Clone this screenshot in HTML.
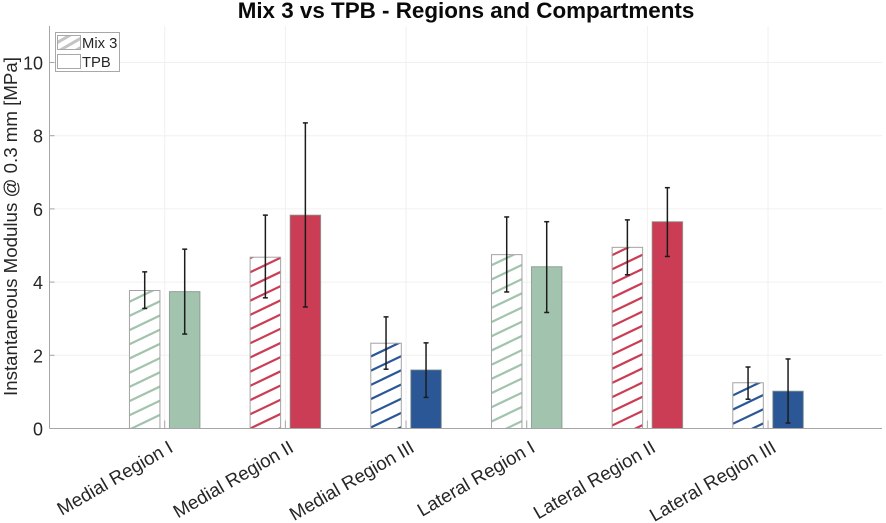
<!DOCTYPE html>
<html>
<head>
<meta charset="utf-8">
<style>
html,body{margin:0;padding:0;background:#fff;width:886px;height:523px;overflow:hidden}
svg{display:block}
text{font-family:"Liberation Sans",sans-serif;fill:#262626}
</style>
</head>
<body>
<svg id="chart" width="886" height="523" viewBox="0 0 886 523" xmlns="http://www.w3.org/2000/svg">
  <text x="466" y="18" text-anchor="middle" font-size="22.4" font-weight="bold" style="fill:#0a0a0a">Mix 3 vs TPB - Regions and Compartments</text>
  <text transform="translate(17,226.5) rotate(-90)" text-anchor="middle" font-size="18.7">Instantaneous Modulus @ 0.3 mm [MPa]</text>
  <g id="grid"></g>
  <g id="bars"></g>
  <g id="errors"></g>
  <g id="axes"></g>
  <g>
    <rect x="55.5" y="32.5" width="64" height="39" fill="#fff" stroke="#a8a8a8" stroke-width="1"/>
    <defs>
      <pattern id="legend-hatch" patternUnits="userSpaceOnUse" width="8" height="8" patternTransform="rotate(-30)">
        <rect width="8" height="8" fill="#fff"/>
        <rect width="8" height="3" fill="#c4c4c4"/>
      </pattern>
    </defs>
    <rect x="57.5" y="35.5" width="23" height="14" fill="url(#legend-hatch)" stroke="#a8a8a8"/>
    <text x="82" y="48" font-size="14.8">Mix 3</text>
    <rect x="57.5" y="54.5" width="23" height="14" fill="#fff" stroke="#a8a8a8"/>
    <text x="82" y="67" font-size="14.8">TPB</text>
  </g>
</svg>
<script>
const categories = ["Medial Region I", "Medial Region II", "Medial Region III", "Lateral Region I", "Lateral Region II", "Lateral Region III"];
const mix3Values = [3.77, 4.68, 2.33, 4.75, 4.95, 1.25];
const mix3Upper = [4.28, 5.83, 3.05, 5.78, 5.70, 1.68];
const mix3Lower = [3.28, 3.57, 1.62, 3.73, 4.20, 0.80];
const tpbValues = [3.74, 5.83, 1.60, 4.42, 5.65, 1.02];
const tpbUpper = [4.90, 8.35, 2.34, 5.65, 6.58, 1.90];
const tpbLower = [2.58, 3.32, 0.85, 3.17, 4.70, 0.15];
const categoryColors = ["#a2c3ad", "#cb3d54", "#2b5797", "#a2c3ad", "#cb3d54", "#2b5797"];
const yTickLabels = [0, 2, 4, 6, 8, 10];

const NS = "http://www.w3.org/2000/svg";
const AXIS_LEFT = 49.5, AXIS_RIGHT = 882, AXIS_BOTTOM = 428.5, AXIS_TOP = 26;
const xAt = i => 164.7 + 120.67 * i;
const yAt = v => 428.5 - 36.6 * v;

function make(parent, tag, attrs) {
  const el = document.createElementNS(NS, tag);
  for (const k in attrs) el.setAttribute(k, attrs[k]);
  parent.appendChild(el);
  return el;
}

const grid = document.getElementById("grid");
const barsG = document.getElementById("bars");
const errorsG = document.getElementById("errors");
const axes = document.getElementById("axes");

yTickLabels.forEach(v => {
  const gl = make(grid, "line", {x1: AXIS_LEFT, x2: AXIS_RIGHT, y1: yAt(v), y2: yAt(v), stroke: "#f0f0f0", "stroke-width": 1});
  
  
  const tk = make(axes, "line", {x1: AXIS_LEFT, x2: AXIS_LEFT + 5, y1: yAt(v), y2: yAt(v), stroke: "#a6a6a6", "stroke-width": 1});
  
  
  const lb = make(axes, "text", {x: 43, y: yAt(v) + 7, "text-anchor": "end", "font-size": 18});
  lb.textContent = v;
  
  
});

categories.forEach((c, i) => {
  const x = xAt(i);
  const gl = make(grid, "line", {x1: x, x2: x, y1: AXIS_TOP, y2: AXIS_BOTTOM, stroke: "#f0f0f0", "stroke-width": 1});
  
  
});

const BAR_W = 30.5, OFFSET = 20;
const hatchSpacing = 14.2, hatchRise = 14.6;

categories.forEach((c, i) => {
  const color = categoryColors[i];
  const cx = xAt(i);

  // Mix 3: hatched bar
  const mx = cx - OFFSET - BAR_W / 2;
  const mTop = yAt(mix3Values[i]);
  const clipId = "clip-" + i;
  const defs = make(barsG, "defs", {});
  const cp = make(defs, "clipPath", {id: clipId});
  make(cp, "rect", {x: mx, y: mTop, width: BAR_W, height: AXIS_BOTTOM - mTop});

  const mixRect = make(barsG, "rect", {x: mx, y: mTop, width: BAR_W, height: AXIS_BOTTOM - mTop, fill: "#fff"});
  
  

  const hatch = make(barsG, "g", {"clip-path": "url(#" + clipId + ")"});
  
  
  const phase = [1, 0, -1, -7, -3, -4.7][i];
  for (let y = AXIS_BOTTOM + phase + hatchSpacing * 2; y > mTop - hatchRise; y -= hatchSpacing) {
    make(hatch, "line", {x1: mx, x2: mx + BAR_W, y1: y, y2: y - hatchRise, stroke: color, "stroke-width": 2.2});
  }
  const mixEdge = make(barsG, "rect", {x: mx, y: mTop, width: BAR_W, height: AXIS_BOTTOM - mTop, fill: "none", stroke: "#a3a3a3", "stroke-width": 1});
  
  

  // TPB: solid bar
  const tx = cx + OFFSET - BAR_W / 2;
  const tTop = yAt(tpbValues[i]);
  const tpbRect = make(barsG, "rect", {x: tx, y: tTop, width: BAR_W, height: AXIS_BOTTOM - tTop, fill: color, stroke: "#7f8f86", "stroke-opacity": 0.75, "stroke-width": 1});
  
  

  // Error bars
  [[cx - OFFSET, mix3Upper[i], mix3Lower[i]], [cx + OFFSET, tpbUpper[i], tpbLower[i]]].forEach(e => {
    const eg = make(errorsG, "g", {stroke: "#1c1c1c", "stroke-width": 1.5, fill: "none"});
    
    
    make(eg, "line", {x1: e[0], x2: e[0], y1: yAt(e[1]), y2: yAt(e[2])});
    make(eg, "line", {x1: e[0] - 2.5, x2: e[0] + 2.5, y1: yAt(e[1]), y2: yAt(e[1])});
    make(eg, "line", {x1: e[0] - 2.5, x2: e[0] + 2.5, y1: yAt(e[2]), y2: yAt(e[2])});
  });

  // Category tick and label
  const tk = make(axes, "line", {x1: cx, x2: cx, y1: AXIS_BOTTOM, y2: AXIS_BOTTOM - 8, stroke: "#a6a6a6", "stroke-width": 1});
  
  
  const lb = make(axes, "text", {transform: "translate(" + (cx + 9.5) + ",451) rotate(-30)", "text-anchor": "end", "font-size": 18.7});
  lb.textContent = c;
  
  
});

const xAxis = make(axes, "line", {x1: AXIS_LEFT, x2: AXIS_RIGHT, y1: AXIS_BOTTOM, y2: AXIS_BOTTOM, stroke: "#a6a6a6", "stroke-width": 1});


const yAxis = make(axes, "line", {x1: AXIS_LEFT, x2: AXIS_LEFT, y1: AXIS_TOP, y2: AXIS_BOTTOM, stroke: "#a6a6a6", "stroke-width": 1});


</script>
</body>
</html>
